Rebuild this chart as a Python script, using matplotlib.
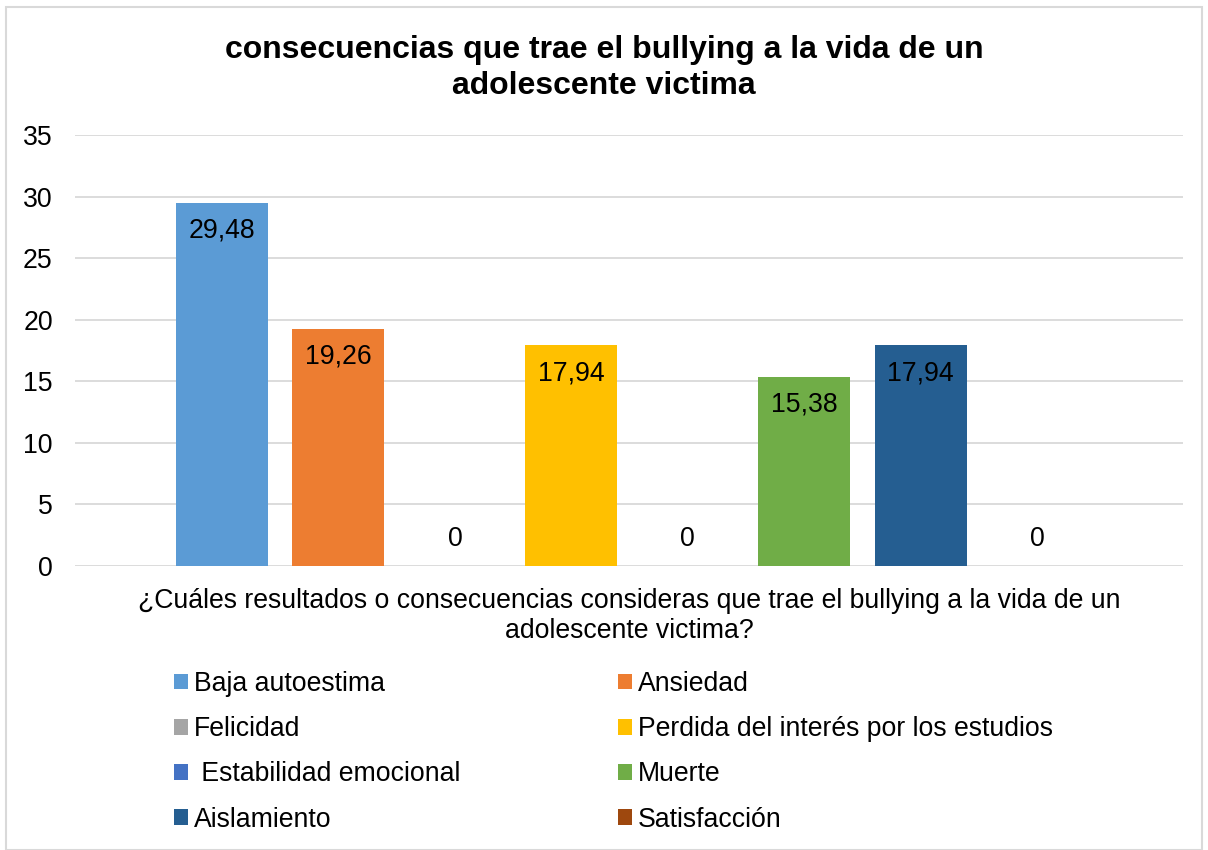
import numpy as np
import matplotlib.pyplot as plt
from matplotlib.patches import Rectangle

plt.rcParams['font.family'] = ['Liberation Sans', 'DejaVu Sans']

categorias = ['Baja autoestima', 'Ansiedad', 'Felicidad',
              'Perdida del interés por los estudios', ' Estabilidad emocional',
              'Muerte', 'Aislamiento', 'Satisfacción']
valores = [29.48, 19.26, 0, 17.94, 0, 15.38, 17.94, 0]
colores = ['#5B9BD5', '#ED7D31', '#A5A5A5', '#FFC000',
           '#4472C4', '#70AD47', '#255E91', '#9E480E']

fs = 19.2
fig = plt.figure(figsize=(12.08, 8.5), dpi=100)
ax = fig.add_axes([75/1208, 1 - 566/850, (1183 - 75)/1208, (566 - 135)/850])

x = np.arange(len(valores))
barras = []
for i, (v, c, nom) in enumerate(zip(valores, colores, categorias)):
    b = ax.bar(x[i], v, width=0.79, color=c, label=nom, zorder=2)
    barras.append(b)
    txt = f'{v:.2f}'.replace('.', ',') if v != 0 else '0'
    dy = -28 if v > 0 else 27
    ax.annotate(txt, (x[i], v), xytext=(0, dy), textcoords='offset pixels',
                ha='center', va='center', fontsize=fs, color='black', zorder=3)

ax.set_xlim(-1.263, 8.254)
ax.set_ylim(0, 35)
ax.set_yticks(range(0, 36, 5))
ax.set_xticks([])
ax.yaxis.grid(True, color='#d9d9d9', linewidth=1.3, zorder=0)
ax.tick_params(axis='y', length=0, pad=16, labelsize=fs)
for s in ax.spines.values():
    s.set_visible(False)

fig.text(0.5, 1 - 68/850,
         'consecuencias que trae el bullying a la vida de un\nadolescente victima',
         ha='center', va='center', fontsize=23, fontweight='bold', linespacing=1.3)
fig.text((75 + 1183) / 2 / 1208, 1 - 616/850,
         '¿Cuáles resultados o consecuencias consideras que trae el bullying a la vida de un\nadolescente victima?',
         ha='center', va='center', fontsize=fs, linespacing=1.25)

orden = [0, 2, 4, 6, 1, 3, 5, 7]
handles = [barras[i] for i in orden]
labels = [categorias[i] for i in orden]
fig.legend(handles, labels, ncol=2, loc='upper left',
           bbox_to_anchor=(174/1208, 1 - 671/850), frameon=False,
           fontsize=fs, handlelength=0.52, handleheight=0.52,
           handletextpad=0.22, columnspacing=5.92, labelspacing=0.72,
           borderpad=0, borderaxespad=0)

fig.patches.append(Rectangle((6/1208, 0), 1 - 12/1208, 1 - 7/850,
                             transform=fig.transFigure, fill=False,
                             edgecolor='#d9d9d9', linewidth=1.5))

fig.savefig('out.png', dpi=100)
